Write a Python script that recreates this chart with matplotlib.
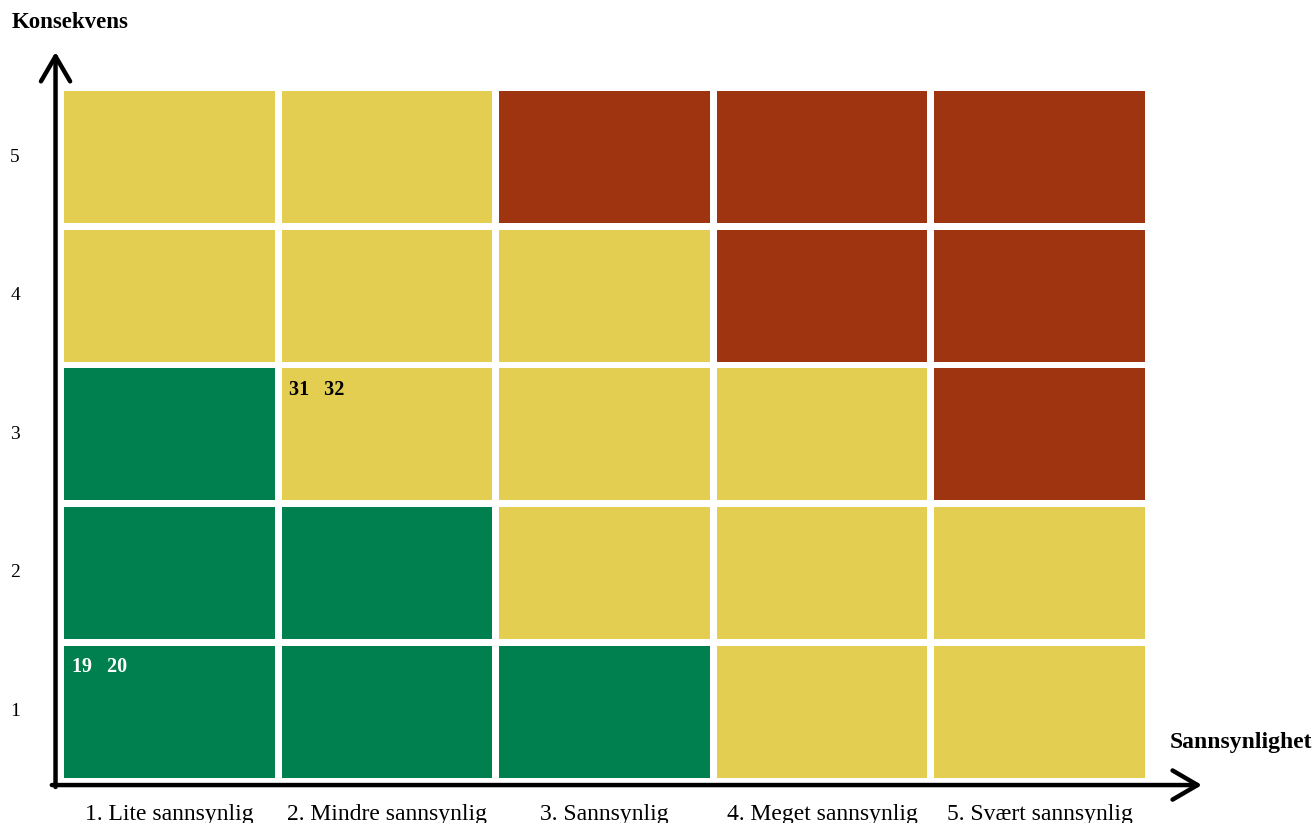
"""Risk matrix: Konsekvens vs Sannsynlighet."""

import matplotlib

matplotlib.use("Agg")
import matplotlib.pyplot as plt

plt.rcParams["font.family"] = ["Liberation Serif", "DejaVu Serif"]

LIKELIHOOD = ["1. Lite sannsynlig", "2. Mindre sannsynlig", "3. Sannsynlig",
              "4. Meget sannsynlig", "5. Svært sannsynlig"]
CONSEQUENCE = [1, 2, 3, 4, 5]

# risk level per cell, rows = consequence 1..5, cols = likelihood 1..5
# 0 = low (green), 1 = medium (yellow), 2 = high (red)
RISK = [
    [0, 0, 0, 1, 1],
    [0, 0, 1, 1, 1],
    [0, 1, 1, 1, 2],
    [1, 1, 1, 2, 2],
    [1, 1, 2, 2, 2],
]
RISK_COLORS = ["#00804E", "#E3CE52", "#9E3510"]

# risk ids placed in cells: (likelihood, consequence, ids)
RISK_IDS = [
    (1, 1, ["19", "20"]),
    (2, 3, ["31", "32"]),
]

fig = plt.figure(figsize=(13.16, 8.23), dpi=100)
ax = fig.add_axes([0, 0, 1, 1])
ax.set_xlim(0.2207, 6.2713)
ax.set_ylim(0.195, 6.137)
ax.axis("off")

for r, cons in enumerate(CONSEQUENCE):
    for c in range(len(LIKELIHOOD)):
        level = RISK[r][c]
        ax.bar(c + 1, 0.953, bottom=cons - 0.4765, width=0.97,
               color=RISK_COLORS[level], linewidth=0)

for lik, cons, ids in RISK_IDS:
    txt_color = "white" if RISK[cons - 1][lik - 1] == 0 else "black"
    ax.text(lik - 0.45, cons + 0.318, "   ".join(ids), color=txt_color,
            fontsize=14.5, fontweight="bold", ha="left", va="center")

# axes with open arrow heads
arrow = dict(arrowstyle="->,head_length=1.8,head_width=1.05", lw=3.2,
             color="black", shrinkA=0, shrinkB=0)
ax.annotate("", xy=(0.476, 5.762), xytext=(0.476, 0.455), arrowprops=arrow)
ax.annotate("", xy=(5.747, 0.469), xytext=(0.459, 0.469), arrowprops=arrow)

for cons in CONSEQUENCE:
    ax.text(0.2897, cons, str(cons), fontsize=14, ha="center", va="center")
for i, lab in enumerate(LIKELIHOOD):
    ax.text(i + 1, 0.255, lab, fontsize=17, ha="center", va="center")

ax.text(0.2755, 5.973, "Konsekvens", fontsize=16.5, fontweight="bold",
        ha="left", va="center")
ax.text(5.600, 0.7726, "Sannsynlighet", fontsize=17, fontweight="bold",
        ha="left", va="center")

fig.savefig("out.png", dpi=100)
